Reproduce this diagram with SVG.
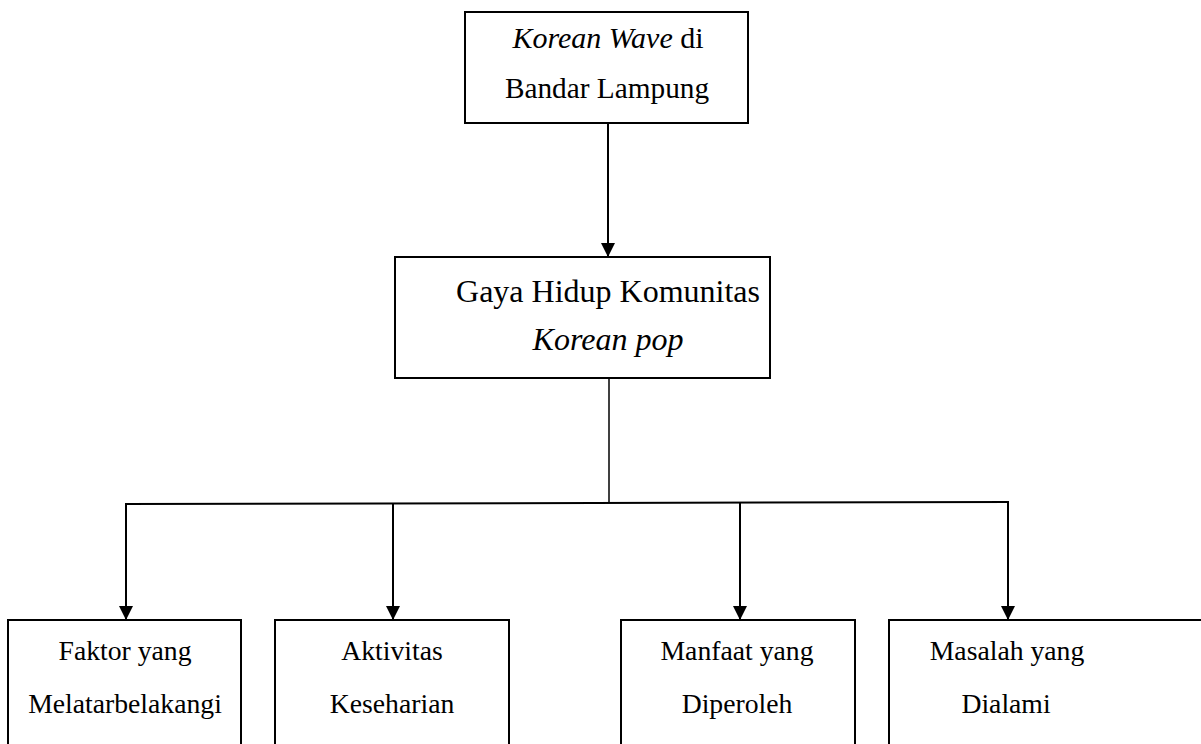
<svg xmlns="http://www.w3.org/2000/svg" width="1201" height="744" viewBox="0 0 1201 744">
<defs>
<style>
.box{fill:#fff;stroke:#000;stroke-width:2}
.t{font-family:"Liberation Serif","Times New Roman",serif;font-size:30px;fill:#000;text-anchor:middle}
.m{font-size:32px}
.b{font-size:27.7px}
.i{font-style:italic}
.ln{fill:none;stroke:#000;stroke-width:2}
</style>
<marker id="ah" viewBox="0 0 10 10" refX="10" refY="5" markerWidth="7" markerHeight="7" markerUnits="strokeWidth" orient="auto">
<path d="M0,0 L10,5 L0,10 Z" fill="#000"/>
</marker>
</defs>
<rect width="1201" height="744" fill="#fff"/>
<g id="connectors">
<line class="ln" x1="608" y1="123" x2="608" y2="257" marker-end="url(#ah)"/>
<line class="ln" x1="609" y1="378" x2="609" y2="503" style="stroke-width:1.5"/>
<line class="ln" x1="125" y1="504" x2="1009" y2="502"/>
<line class="ln" x1="126" y1="504" x2="126" y2="620" marker-end="url(#ah)"/>
<line class="ln" x1="393" y1="503" x2="393" y2="620" marker-end="url(#ah)"/>
<line class="ln" x1="740" y1="503" x2="740" y2="620" marker-end="url(#ah)"/>
<line class="ln" x1="1008" y1="502" x2="1008" y2="620" marker-end="url(#ah)"/>
</g>
<g id="node-top">
<rect class="box" x="465" y="12" width="283" height="111"/>
<text class="t" x="608" y="48"><tspan class="i">Korean Wave</tspan> di</text>
<text class="t" x="607" y="98" style="font-size:29.3px">Bandar Lampung</text>
</g>
<g id="node-middle">
<rect class="box" x="395" y="257" width="375" height="121"/>
<text class="t m" x="608" y="302">Gaya Hidup Komunitas</text>
<text class="t m i" x="608" y="350">Korean pop</text>
</g>
<g id="node-faktor">
<rect class="box" x="8" y="620" width="233" height="140"/>
<text class="t b" x="125" y="660">Faktor yang</text>
<text class="t b" x="125" y="713">Melatarbelakangi</text>
</g>
<g id="node-aktivitas">
<rect class="box" x="275" y="620" width="234" height="140"/>
<text class="t b" x="392" y="660">Aktivitas</text>
<text class="t b" x="392" y="713">Keseharian</text>
</g>
<g id="node-manfaat">
<rect class="box" x="621" y="620" width="234" height="140"/>
<text class="t b" x="737" y="660">Manfaat yang</text>
<text class="t b" x="737" y="713">Diperoleh</text>
</g>
<g id="node-masalah">
<rect class="box" x="889" y="620" width="330" height="140"/>
<text class="t b" x="1007" y="660">Masalah yang</text>
<text class="t b" x="1006" y="713">Dialami</text>
</g>
</svg>
